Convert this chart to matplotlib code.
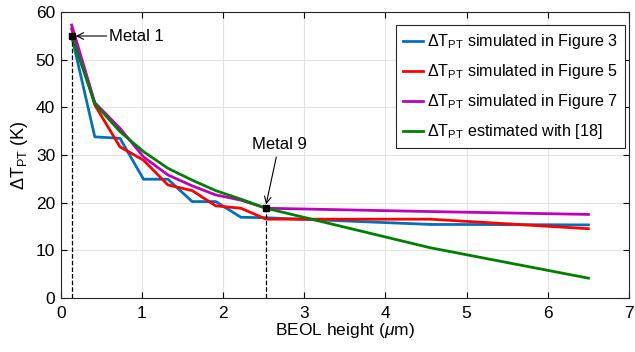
import matplotlib
matplotlib.use("Agg")
import matplotlib.pyplot as plt

plt.rcParams['font.family'] = ['Liberation Sans', 'DejaVu Sans']
plt.rcParams['mathtext.fontset'] = 'custom'
plt.rcParams['mathtext.rm'] = 'Liberation Sans'
plt.rcParams['mathtext.it'] = 'Liberation Sans:italic'
plt.rcParams['mathtext.sf'] = 'Liberation Sans'

# BEOL heights (um) of metal layers, plus two top points
x = [0.135, 0.42, 0.73, 1.02, 1.32, 1.62, 1.91, 2.22, 2.53, 4.55, 6.5]

fig3 = [55.0, 33.8, 33.5, 24.9, 24.9, 20.2, 20.2, 16.9, 16.8, 15.4, 15.3]
fig5 = [56.5, 40.5, 31.7, 28.9, 23.7, 22.5, 19.3, 18.8, 16.5, 16.5, 14.5]
fig7 = [57.3, 41.0, 35.6, 29.6, 25.8, 23.5, 21.6, 20.5, 18.8, 18.1, 17.5]
est18 = [55.0, 40.8, 34.9, 30.7, 27.2, 24.7, 22.5, 20.7, 18.8, 10.5, 4.1]

labels = [r'$\Delta$T$_{\rm PT}$ simulated in Figure 3',
          r'$\Delta$T$_{\rm PT}$ simulated in Figure 5',
          r'$\Delta$T$_{\rm PT}$ simulated in Figure 7',
          r'$\Delta$T$_{\rm PT}$ estimated with [18]']
colors = ['#0072BD', '#FF0000', '#BF00BF', '#008000']

metal1 = (0.135, 55.0)
metal9 = (2.53, 18.8)

fig = plt.figure(figsize=(6.35, 3.52), dpi=100)
ax = fig.add_axes([0.0956, 0.1543, 0.895, 0.811])

for ys, c, lab in zip([fig3, fig5, fig7, est18], colors, labels):
    ax.plot(x, ys, color=c, lw=2.0, label=lab)

for (mx, my) in [metal1, metal9]:
    ax.plot([mx, mx], [0, my], 'k--', lw=0.9)
    ax.plot(mx, my, 's', color='black', ms=4.5, zorder=5)

ax.annotate('Metal 1', xy=(metal1[0] + 0.05, metal1[1]), xytext=(0.6, 55),
            fontsize=12, va='center', ha='left',
            arrowprops=dict(arrowstyle='->', color='black', lw=0.8, shrinkA=0, shrinkB=0))
ax.annotate('Metal 9', xy=(metal9[0], metal9[1] + 0.8), xytext=(2.69, 32.3),
            fontsize=12, va='center', ha='center',
            arrowprops=dict(arrowstyle='->', color='black', lw=0.8, shrinkA=2, shrinkB=0))

ax.set_xlim(0, 7)
ax.set_ylim(0, 60)
ax.set_xticks(range(0, 8))
ax.set_yticks(range(0, 61, 10))
ax.grid(True, color='#e3e3e3', lw=0.8)
ax.set_axisbelow(True)
ax.tick_params(direction='in', labelsize=12.5, top=True, right=True, length=4)
ax.tick_params(axis='x', pad=6)
ax.tick_params(axis='y', pad=4)
for s in ax.spines.values():
    s.set_linewidth(0.8)
    s.set_color('#262626')

ax.set_xlabel(r'BEOL height ($\mu$m)', fontsize=12.5, labelpad=0)
ax.set_ylabel(r'$\Delta$T$_{\rm PT}$ (K)', fontsize=13, labelpad=4)

leg = ax.legend(loc='upper right', fontsize=11.6, handlelength=1.2, handletextpad=0.25,
                borderpad=0.45, labelspacing=0.68, fancybox=False, framealpha=1,
                edgecolor='#262626', bbox_to_anchor=(0.993, 0.955), borderaxespad=0)
leg.get_frame().set_linewidth(0.8)

fig.savefig('out.png', dpi=100)
